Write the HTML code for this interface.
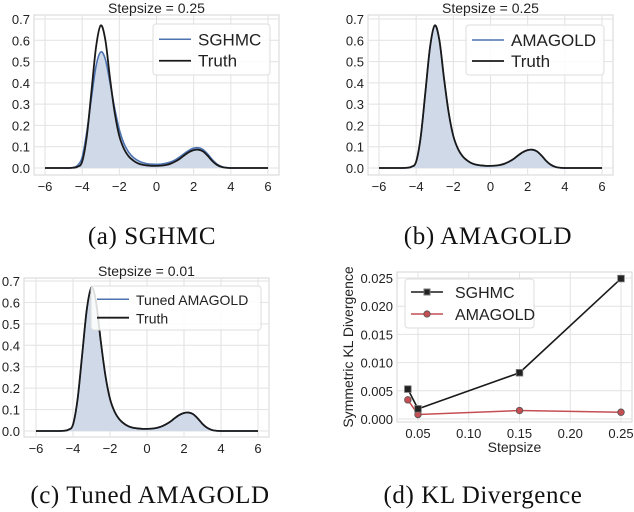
<!DOCTYPE html>
<html><head><meta charset="utf-8"><style>
body{margin:0;background:#fff;}
svg{display:block;font-family:"Liberation Sans",sans-serif;}
.cap{font-family:"Liberation Serif",serif;font-size:25px;fill:#111;letter-spacing:0.6px;}
</style></head><body>
<svg id="fig" width="634" height="512">
<text class="cap" x="152" y="244" text-anchor="middle">(a) SGHMC</text>
<text class="cap" x="488" y="244" text-anchor="middle">(b) AMAGOLD</text>
<text class="cap" x="150" y="503" text-anchor="middle">(c) Tuned AMAGOLD</text>
<text class="cap" x="483" y="503" text-anchor="middle">(d) KL Divergence</text>
</svg>
<script>
const xGrid=[-6,-5.75,-5.5,-5.25,-5,-4.75,-4.5,-4.25,-4,-3.75,-3.5,-3.25,-3,-2.75,-2.5,-2.25,-2,-1.75,-1.5,-1.25,-1,-0.75,-0.5,-0.25,0,0.25,0.5,0.75,1,1.25,1.5,1.75,2,2.25,2.5,2.75,3,3.25,3.5,3.75,4,4.25,4.5,4.75,5,5.25,5.5,5.75,6];
const truth=[0,0,0,0,0,0,0.001,0.006,0.03,0.15,0.36,0.57,0.67,0.6,0.42,0.26,0.15,0.09,0.055,0.035,0.022,0.015,0.012,0.01,0.01,0.011,0.014,0.02,0.03,0.043,0.06,0.075,0.084,0.086,0.078,0.058,0.033,0.015,0.005,0.001,0,0,0,0,0,0,0,0,0];
const sghmc=[0,0,0,0,0,0,0.002,0.012,0.05,0.17,0.33,0.48,0.545,0.51,0.4,0.28,0.18,0.115,0.075,0.05,0.035,0.025,0.02,0.018,0.017,0.018,0.022,0.028,0.038,0.052,0.068,0.083,0.093,0.095,0.087,0.066,0.04,0.019,0.007,0.002,0,0,0,0,0,0,0,0,0];
const amagold=truth.slice();
const tuned=truth.slice();
const densTicksX=[-6,-4,-2,0,2,4,6];
const densTicksY=[0,0.1,0.2,0.3,0.4,0.5,0.6,0.7];
const klSteps=[0.04,0.05,0.15,0.25];
const klSGHMC=[0.0053,0.0018,0.0082,0.0249];
const klAMAGOLD=[0.0034,0.0008,0.0015,0.0012];
const klTicksX=[0.05,0.10,0.15,0.20,0.25];
const klTicksY=[0,0.005,0.010,0.015,0.020,0.025];

const svg=document.getElementById('fig');
const NS='http://www.w3.org/2000/svg';
function mk(tag,attrs,parent){const e=document.createElementNS(NS,tag);for(const k in attrs)e.setAttribute(k,attrs[k]);(parent||svg).appendChild(e);return e;}
function smooth(pts){let d='M'+pts[0][0]+','+pts[0][1];for(let i=0;i<pts.length-1;i++){const p0=pts[Math.max(i-1,0)],p1=pts[i],p2=pts[i+1],p3=pts[Math.min(i+2,pts.length-1)];const c1=[p1[0]+(p2[0]-p0[0])/6,p1[1]+(p2[1]-p0[1])/6],c2=[p2[0]-(p3[0]-p1[0])/6,p2[1]-(p3[1]-p1[1])/6];d+=` C${c1[0]},${c1[1]} ${c2[0]},${c2[1]} ${p2[0]},${p2[1]}`;}return d;}

function density(cfg){
  const g=mk('g',{});
  
  
  const X=v=>cfg.x0+(v+6)/12*(cfg.x1-cfg.x0);
  const Y=v=>cfg.y0-v/0.7*(cfg.y0-cfg.y7);
  mk('rect',{x:cfg.fl,y:cfg.ft,width:cfg.fr-cfg.fl,height:cfg.fb-cfg.ft,fill:'#fff',stroke:'#d6d6d6','stroke-width':1},g);
  densTicksX.forEach(t=>{mk('line',{x1:X(t),x2:X(t),y1:cfg.ft,y2:cfg.fb,stroke:'#e2e2e2'},g);
    const tx=mk('text',{x:X(t),y:cfg.fb+16,'font-size':13,'text-anchor':'middle',fill:'#222'},g);tx.textContent=(t<0?'\u2212'+(-t):t);
    });
  densTicksY.forEach(t=>{mk('line',{x1:cfg.fl,x2:cfg.fr,y1:Y(t),y2:Y(t),stroke:'#e2e2e2'},g);
    const ty=mk('text',{x:cfg.fl-4,y:Y(t)+5,'font-size':13,'text-anchor':'end',fill:'#222'},g);ty.textContent=t.toFixed(1);
    });
  const sp=xGrid.map((x,i)=>[X(x),Y(cfg.series[i])]);
  const tp=xGrid.map((x,i)=>[X(x),Y(truth[i])]);
  const fill=mk('path',{d:smooth(sp)+` L${X(6)},${Y(0)} L${X(-6)},${Y(0)} Z`,fill:'#cfd9e8',stroke:'none'},g);
  
  const sl=mk('path',{d:smooth(sp),fill:'none',stroke:'#4c72b0','stroke-width':1.6},g);
  
  const tl=mk('path',{d:smooth(tp),fill:'none',stroke:'#1a1a1a','stroke-width':1.8},g);
  
  const ti=mk('text',{x:(cfg.fl+cfg.fr)/2,y:cfg.ft-2,'font-size':14,'text-anchor':'middle',fill:'#222'},g);ti.textContent=cfg.title;
  
  const L=cfg.leg;
  const lg=mk('g',{},g);
  
  mk('rect',{x:L.x,y:L.y,width:L.w,height:L.h,rx:3,fill:'rgba(255,255,255,0.85)',stroke:'#ddd'},lg);
  mk('line',{x1:L.x+6,x2:L.x+38,y1:L.y+L.h*0.3,y2:L.y+L.h*0.3,stroke:'#4c72b0','stroke-width':1.5},lg);
  mk('line',{x1:L.x+6,x2:L.x+38,y1:L.y+L.h*0.72,y2:L.y+L.h*0.72,stroke:'#1a1a1a','stroke-width':1.8},lg);
  const a=mk('text',{x:L.x+45,y:L.y+L.h*0.3+6,'font-size':L.fs,fill:'#222'},lg);a.textContent=cfg.label;
  
  const b=mk('text',{x:L.x+45,y:L.y+L.h*0.72+6,'font-size':L.fs,fill:'#222'},lg);b.textContent='Truth';
  
}
density({name:'chart-sghmc',fl:34,fr:279,ft:15,fb:175,x0:45,x1:268,y0:168,y7:19,series:sghmc,title:'Stepsize = 0.25',label:'SGHMC',leg:{x:153,y:24,w:117,h:51,fs:17}});
density({name:'chart-amagold',fl:368,fr:613,ft:15,fb:175,x0:379,x1:602,y0:168,y7:19,series:amagold,title:'Stepsize = 0.25',label:'AMAGOLD',leg:{x:466,y:25,w:138,h:50,fs:17}});
density({name:'chart-tuned',fl:24,fr:269,ft:278,fb:437,x0:36,x1:258,y0:431,y7:281,series:tuned,title:'Stepsize = 0.01',label:'Tuned AMAGOLD',leg:{x:91,y:286,w:170,h:44,fs:14}});

(function(){
  const g=mk('g',{});
  
  
  const fl=397,fr=632,ft=272,fb=422;
  const X=v=>418+(v-0.05)/0.2*(621-418);
  const Y=v=>419-v/0.025*(419-278);
  mk('rect',{x:fl,y:ft,width:fr-fl,height:fb-ft,fill:'#fff',stroke:'#d6d6d6'},g);
  klTicksX.forEach(t=>{mk('line',{x1:X(t),x2:X(t),y1:ft,y2:fb,stroke:'#e2e2e2'},g);
    const tx=mk('text',{x:X(t),y:fb+16,'font-size':13,'text-anchor':'middle',fill:'#222'},g);tx.textContent=t.toFixed(2);
    });
  klTicksY.forEach(t=>{mk('line',{x1:fl,x2:fr,y1:Y(t),y2:Y(t),stroke:'#e2e2e2'},g);
    const ty=mk('text',{x:fl-4,y:Y(t)+5,'font-size':13,'text-anchor':'end',fill:'#222'},g);ty.textContent=t.toFixed(3);
    });
  const xl=mk('text',{x:(fl+fr)/2,y:452,'font-size':14,'text-anchor':'middle',fill:'#222'},g);xl.textContent='Stepsize';
  
  const yl=mk('text',{x:0,y:0,'font-size':14,'text-anchor':'middle',fill:'#222',transform:'translate(353,347) rotate(-90)'},g);yl.textContent='Symmetric KL Divergence';
  
  const lp=mk('polyline',{points:klSteps.map((s,i)=>X(s)+','+Y(klAMAGOLD[i])).join(' '),fill:'none',stroke:'#c44e52','stroke-width':1.5},g);
  
  klSteps.forEach((s,i)=>{const c=mk('circle',{cx:X(s),cy:Y(klAMAGOLD[i]),r:3.3,fill:'#c44e52',stroke:'#555','stroke-width':0.8},g);
    });
  const sp=mk('polyline',{points:klSteps.map((s,i)=>X(s)+','+Y(klSGHMC[i])).join(' '),fill:'none',stroke:'#1a1a1a','stroke-width':1.6},g);
  
  klSteps.forEach((s,i)=>{const r=mk('rect',{x:X(s)-3.3,y:Y(klSGHMC[i])-3.3,width:6.6,height:6.6,fill:'#222',stroke:'#777','stroke-width':0.8},g);
    });
  const lg=mk('g',{},g);
  
  mk('rect',{x:405,y:279,width:129,height:49,rx:3,fill:'#fff',stroke:'#ddd'},lg);
  mk('line',{x1:411,x2:443,y1:292,y2:292,stroke:'#1a1a1a','stroke-width':1.6},lg);
  mk('rect',{x:424,y:289,width:6,height:6,fill:'#222',stroke:'#777'},lg);
  mk('line',{x1:411,x2:443,y1:314,y2:314,stroke:'#c44e52','stroke-width':1.5},lg);
  mk('circle',{cx:427,cy:314,r:3.2,fill:'#c44e52',stroke:'#555','stroke-width':0.8},lg);
  const a=mk('text',{x:455,y:298,'font-size':16,fill:'#222'},lg);a.textContent='SGHMC';
  
  const b=mk('text',{x:455,y:320,'font-size':16,fill:'#222'},lg);b.textContent='AMAGOLD';
  
})();
</script>
</body></html>
